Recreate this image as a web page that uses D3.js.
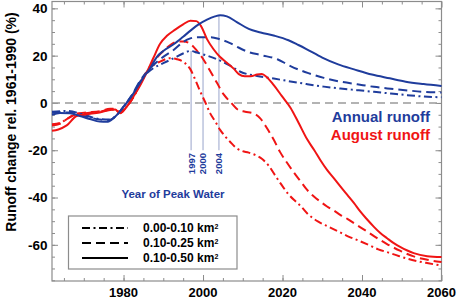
<!DOCTYPE html>
<html>
<head>
<meta charset="utf-8">
<script src="https://cdn.jsdelivr.net/npm/d3@7"></script>
<style>
  body { margin: 0; background: #fff; }
  svg { display: block; font-family: "Liberation Sans", Arial, sans-serif; }
</style>
</head>
<body>
<svg id="chart" width="458" height="299"></svg>
<script>
// series values: [year, % change]
const annualSmall = [[1962,-3.7],[1966,-3.4],[1970,-5.0],[1974,-6.8],[1976.5,-7.0],[1978.7,-4.4],[1980,-1.6],[1982,3.0],[1985,11.0],[1987.5,14.7],[1990,16.8],[1992.6,18.9],[1995.1,21.0],[1996.8,22.0],[1998.5,21.3],[2001,20.0],[2003.5,18.5],[2006.8,15.8],[2009.4,13.2],[2013.6,11.4],[2017.8,10.3],[2022,9.1],[2026,8.0],[2030.4,6.9],[2034.6,6.1],[2038.8,5.4],[2043,4.7],[2047.2,4.0],[2051.4,3.3],[2055.5,2.7],[2060,2.4]];
const annualMedium = [[1962,-4.2],[1966,-4.0],[1970,-5.5],[1974,-7.0],[1976.5,-7.2],[1978.7,-4.4],[1980,-1.6],[1982,3.0],[1984.2,9.5],[1987.5,16.0],[1990,19.5],[1992.6,22.4],[1995.1,25.9],[1996.8,27.3],[1998.5,27.8],[2002,27.8],[2004.3,26.9],[2006.8,25.3],[2008.5,23.8],[2011,21.8],[2014.7,20.2],[2018.7,18.5],[2022,15.6],[2024.5,13.8],[2026.5,12.6],[2030.4,10.6],[2034.6,9.0],[2038.8,7.9],[2043,6.8],[2047.2,6.0],[2051.4,5.3],[2055.5,4.7],[2060,4.4]];
const annualLarge = [[1962,-5.0],[1964,-4.3],[1966.5,-4.4],[1969,-5.5],[1971.5,-6.8],[1974,-7.9],[1975.8,-8.0],[1977.4,-6.5],[1978.7,-4.4],[1980,-1.6],[1981.7,2.0],[1983.3,6.2],[1985,10.8],[1986.7,14.7],[1988.4,19.5],[1990,22.0],[1992.6,24.8],[1995,28.0],[1997,30.8],[1999,33.3],[2001,35.2],[2003,36.6],[2004.3,37.1],[2006,36.6],[2008.5,34.2],[2011.5,31.3],[2014.5,29.8],[2018,28.4],[2021.5,26.5],[2024,24.5],[2026,22.8],[2030,19.2],[2034,16.3],[2038,14.2],[2042.5,12.0],[2047,10.4],[2051,9.0],[2055.5,8.0],[2060,7.2]];

const augustSmall = [[1962,-9.0],[1964,-8.5],[1966,-6.5],[1968.2,-4.8],[1971,-4.2],[1974,-3.8],[1976.6,-2.8],[1977.9,-2.8],[1979.1,-4.2],[1980.8,-1.6],[1982.5,2.5],[1984.2,8.0],[1986.7,14.7],[1989.2,17.5],[1991.7,18.9],[1993.4,18.5],[1995.1,17.3],[1996.8,14.3],[1998,10.0],[1999.3,4.8],[2000.5,0.5],[2001.8,-4.4],[2003.1,-7.9],[2004.3,-11.4],[2005.6,-14.2],[2006.8,-16.4],[2008.5,-19.2],[2009.8,-20.3],[2011.5,-21.0],[2013.1,-22.0],[2014.8,-23.6],[2016.5,-26.5],[2018.2,-30.8],[2019.9,-35.0],[2021.5,-38.6],[2023.2,-41.5],[2024.5,-43.5],[2026.5,-47.2],[2029,-50.2],[2031.5,-52.3],[2034.1,-54.4],[2036.6,-56.5],[2039.1,-58.2],[2041.6,-60.0],[2044.1,-61.9],[2046.7,-63.3],[2049.2,-64.7],[2051.7,-66.0],[2054.2,-67.0],[2056.7,-67.8],[2060,-68.8]];
const augustMedium = [[1962,-9.5],[1964,-8.8],[1966,-6.5],[1968.2,-4.5],[1971,-4.0],[1974,-3.5],[1976.6,-2.5],[1977.9,-2.5],[1979.1,-4.0],[1980.8,-1.5],[1982.5,2.5],[1984.2,8.5],[1986.7,15.5],[1990,22.0],[1992,24.8],[1993.8,26.0],[1995.1,26.0],[1996.8,25.0],[1998.5,22.0],[2000.1,18.4],[2001.8,13.5],[2003.5,8.5],[2005.2,3.6],[2007,0.2],[2008.9,-3.0],[2010.6,-3.7],[2012.7,-4.4],[2014.4,-6.5],[2016.1,-10.7],[2017.8,-15.6],[2019.4,-20.8],[2021.1,-25.2],[2022.8,-29.3],[2024.5,-33.0],[2026.2,-36.8],[2027.9,-39.6],[2029.5,-41.7],[2031.2,-43.8],[2032.9,-45.5],[2034.6,-47.4],[2036.3,-49.0],[2038,-50.9],[2039.6,-52.6],[2041.3,-54.4],[2043,-56.3],[2044.6,-58.0],[2046.3,-59.7],[2048,-61.2],[2049.7,-62.6],[2051.4,-63.9],[2053,-64.9],[2056.4,-66.3],[2060,-67.3]];
const augustLarge = [[1962,-11.8],[1963.6,-11.2],[1965.7,-9.5],[1968.2,-5.5],[1970.7,-4.8],[1974,-4.0],[1976.6,-3.0],[1977.9,-2.8],[1979.1,-4.4],[1980.8,-1.6],[1982.5,2.7],[1984.2,7.5],[1986,13.5],[1987.5,19.0],[1989.2,25.0],[1991,28.5],[1993,31.0],[1995,33.2],[1996.8,34.8],[1998.3,34.6],[1999.5,32.5],[2001,27.0],[2002.6,22.8],[2004.3,19.4],[2006,17.0],[2007.7,14.5],[2009,12.2],[2010.5,11.3],[2012,11.3],[2013.6,12.0],[2014.8,12.2],[2016,11.0],[2017.8,7.5],[2019.8,3.0],[2022,-2.0],[2024.1,-8.6],[2026.2,-15.4],[2028,-20.0],[2029.5,-24.1],[2031.2,-28.3],[2032.9,-31.8],[2034.6,-35.4],[2036.3,-38.9],[2038,-42.4],[2039.6,-46.0],[2041.3,-49.3],[2043,-52.4],[2044.6,-55.0],[2046.3,-57.2],[2048,-59.3],[2049.7,-61.0],[2051.4,-62.4],[2053,-63.5],[2056.4,-64.8],[2060,-65.2]];

// year of peak water (annual runoff) per size class
const peakYears = [1997, 2000, 2004];
const peakValues = [22.0, 27.8, 37.1];

const sizeClasses = ['0.00-0.10 km', '0.10-0.25 km', '0.10-0.50 km'];
const xTickLabels = [1980, 2000, 2020, 2040, 2060];
const yTickLabels = [40, 20, 0, -20, -40, -60];

const blue = '#1f3c9c';
const red = '#f01414';
const dashes = ['8,3.5,2,3.5', '9,5', null];

const svg = d3.select('#chart');
const plot = { left: 52, right: 441.5, top: 1.5, bottom: 281 };

const x = d3.scaleLinear().domain([1962, 2060]).range([plot.left, plot.right]);
const y = d3.scaleLinear().domain([-75.3, 42.9]).range([plot.bottom, plot.top]);

// frame ticks, pointing inward on all sides
const axisColor = '#8c8c8c';
function ticks(axisFn, scale, values, size, transform) {
  const g = svg.append('g')
    .attr('transform', transform)
    .call(axisFn(scale).tickValues(values).tickSize(size).tickFormat(''));
  g.select('.domain').remove();
  g.selectAll('line').attr('stroke', axisColor);
}
const minorX = d3.range(1965, 2060, 5);
const majorX = d3.range(1980, 2061, 20);
const minorY = d3.range(-75, 43, 5);
const majorY = d3.range(-60, 41, 20);
ticks(d3.axisBottom, x, minorX, -3, `translate(0,${plot.bottom})`);
ticks(d3.axisBottom, x, majorX, -6, `translate(0,${plot.bottom})`);
ticks(d3.axisTop, x, minorX, -3, `translate(0,${plot.top})`);
ticks(d3.axisTop, x, majorX, -6, `translate(0,${plot.top})`);
ticks(d3.axisLeft, y, minorY, -3, `translate(${plot.left},0)`);
ticks(d3.axisLeft, y, majorY, -6, `translate(${plot.left},0)`);
ticks(d3.axisRight, y, minorY, -3, `translate(${plot.right},0)`);
ticks(d3.axisRight, y, majorY, -6, `translate(${plot.right},0)`);

svg.append('rect')
  .attr('x', plot.left).attr('y', plot.top)
  .attr('width', plot.right - plot.left).attr('height', plot.bottom - plot.top)
  .attr('fill', 'none').attr('stroke', axisColor).attr('stroke-width', 1.2);

// tick labels
svg.append('g').selectAll('text')
  .data(xTickLabels).join('text')
  .attr('x', d => x(d)).attr('y', 296.5)
  .attr('text-anchor', 'middle')
  .style('font-size', '13px').style('font-weight', 'bold')
  .text(d => d);

svg.append('g').selectAll('text')
  .data(yTickLabels).join('text')
  .attr('x', 47.5).attr('y', d => y(d)).attr('dy', '0.36em')
  .attr('text-anchor', 'end')
  .style('font-size', '13.5px').style('font-weight', 'bold')
  .text(d => d);

svg.append('text')
  .attr('transform', `translate(16,122) rotate(-90)`)
  .attr('text-anchor', 'middle')
  .style('font-size', '14px').style('font-weight', 'bold')
  .text('Runoff change rel. 1961-1990 (%)');

// zero line
svg.append('line')
  .attr('x1', plot.left).attr('x2', plot.right)
  .attr('y1', y(0)).attr('y2', y(0))
  .attr('stroke', '#9a9a9a').attr('stroke-width', 1.5)
  .attr('stroke-dasharray', '8,5');

// peak water markers
svg.append('g').selectAll('line')
  .data(peakYears).join('line')
  .attr('x1', d => x(d)).attr('x2', d => x(d))
  .attr('y1', (d, i) => y(peakValues[i])).attr('y2', y(-20))
  .attr('stroke', '#aab3d4').attr('stroke-width', 1.2);

svg.append('g').selectAll('text')
  .data(peakYears).join('text')
  .attr('transform', d => `translate(${x(d) + 3.4},153) rotate(-90)`)
  .attr('text-anchor', 'end')
  .attr('fill', blue)
  .style('font-size', '9.5px').style('font-weight', 'bold')
  .text(d => d);

svg.append('text')
  .attr('x', 173).attr('y', 197.5)
  .attr('text-anchor', 'middle')
  .attr('fill', blue)
  .style('font-size', '11.5px').style('font-weight', 'bold')
  .text('Year of Peak Water');

// curves
const line = d3.line()
  .x(d => x(d[0]))
  .y(d => y(d[1]))
  .curve(d3.curveMonotoneX);

const series = [
  { data: augustSmall, color: red, dash: dashes[0] },
  { data: augustMedium, color: red, dash: dashes[1] },
  { data: annualSmall, color: blue, dash: dashes[0] },
  { data: annualMedium, color: blue, dash: dashes[1] },
  { data: augustLarge, color: red, dash: dashes[2] },
  { data: annualLarge, color: blue, dash: dashes[2] }
];

svg.append('g').selectAll('path')
  .data(series).join('path')
  .attr('d', d => line(d.data))
  .attr('fill', 'none')
  .attr('stroke', d => d.color)
  .attr('stroke-width', 2)
  .attr('stroke-dasharray', d => d.dash);

svg.append('text')
  .attr('x', 430).attr('y', 122)
  .attr('text-anchor', 'end').attr('fill', blue)
  .style('font-size', '15px').style('font-weight', 'bold')
  .text('Annual runoff');

svg.append('text')
  .attr('x', 430).attr('y', 140)
  .attr('text-anchor', 'end').attr('fill', red)
  .style('font-size', '15px').style('font-weight', 'bold')
  .text('August runoff');

// legend
const legend = svg.append('g');
legend.append('rect')
  .attr('x', 68.5).attr('y', 216).attr('width', 168.5).attr('height', 53)
  .attr('fill', '#fff').attr('stroke', axisColor).attr('stroke-width', 1.2);

sizeClasses.forEach((label, i) => {
  const ly = 228 + i * 15;
  legend.append('line')
    .attr('x1', 82).attr('x2', 128)
    .attr('y1', ly).attr('y2', ly)
    .attr('stroke', '#000').attr('stroke-width', 2)
    .attr('stroke-dasharray', dashes[i]);
  const t = legend.append('text')
    .attr('x', 143).attr('y', ly).attr('dy', '0.36em')
    .style('font-size', '12px').style('font-weight', 'bold')
    .text(label);
  t.append('tspan')
    .attr('dy', '-0.45em')
    .style('font-size', '7px')
    .text('2');
});
</script>
</body>
</html>
